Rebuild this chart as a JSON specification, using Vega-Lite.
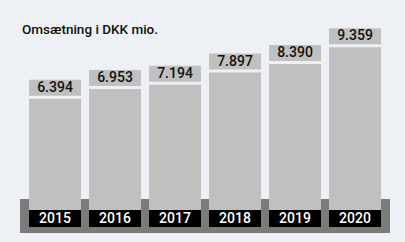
{
  "$schema": "https://vega.github.io/schema/vega-lite/v6.json",
  "width": 405,
  "height": 242,
  "autosize": {"type": "none"},
  "padding": 0,
  "background": "#edf0f4",
  "config": {
    "view": {"stroke": null},
    "locale": {"number": {"decimal": ",", "thousands": ".", "grouping": [3], "currency": ["", " kr."]}}
  },
  "title": {
    "text": "Omsætning i DKK mio.",
    "anchor": "start",
    "frame": "group",
    "offset": -36,
    "dx": 22,
    "font": "Roboto",
    "fontSize": 13.5,
    "fontWeight": 500,
    "color": "#111111"
  },
  "data": {
    "values": [
      {"year": "2015", "value": 6394},
      {"year": "2016", "value": 6953},
      {"year": "2017", "value": 7194},
      {"year": "2018", "value": 7897},
      {"year": "2019", "value": 8390},
      {"year": "2020", "value": 9359}
    ]
  },
  "encoding": {
    "x": {"field": "year", "type": "ordinal", "axis": null, "scale": {"range": [25, 385], "paddingInner": 0, "paddingOuter": 0}}
  },
  "layer": [
    {
      "mark": {"type": "tick", "color": "#7b7b7b", "thickness": 34, "size": 70, "yOffset": 6, "opacity": 1},
      "encoding": {"y": {"datum": 0, "type": "quantitative", "axis": null, "scale": {"domain": [-1840, 12070], "nice": false, "zero": false}}}
    },
    {
      "mark": {"type": "bar", "color": "#c0c0c0", "width": 52},
      "encoding": {"y": {"field": "value", "type": "quantitative"}, "y2": {"datum": 0}}
    },
    {
      "mark": {"type": "tick", "color": "#000000", "thickness": 17, "size": 52, "yOffset": 8.5, "opacity": 1},
      "encoding": {"y": {"datum": 0, "type": "quantitative"}}
    },
    {
      "mark": {"type": "text", "color": "#ffffff", "font": "Roboto", "fontSize": 14, "fontWeight": 500, "baseline": "middle", "yOffset": 9},
      "encoding": {"y": {"datum": 0, "type": "quantitative"}, "text": {"field": "year"}}
    },
    {
      "mark": {"type": "tick", "color": "#c0c0c0", "thickness": 16, "size": 52, "yOffset": -11, "opacity": 1},
      "encoding": {"y": {"field": "value", "type": "quantitative"}}
    },
    {
      "mark": {"type": "text", "color": "#111111", "font": "Roboto", "fontSize": 14, "fontWeight": 500, "baseline": "middle", "yOffset": -11},
      "encoding": {"y": {"field": "value", "type": "quantitative"}, "text": {"field": "value", "type": "quantitative", "format": ",d"}}
    }
  ]
}
